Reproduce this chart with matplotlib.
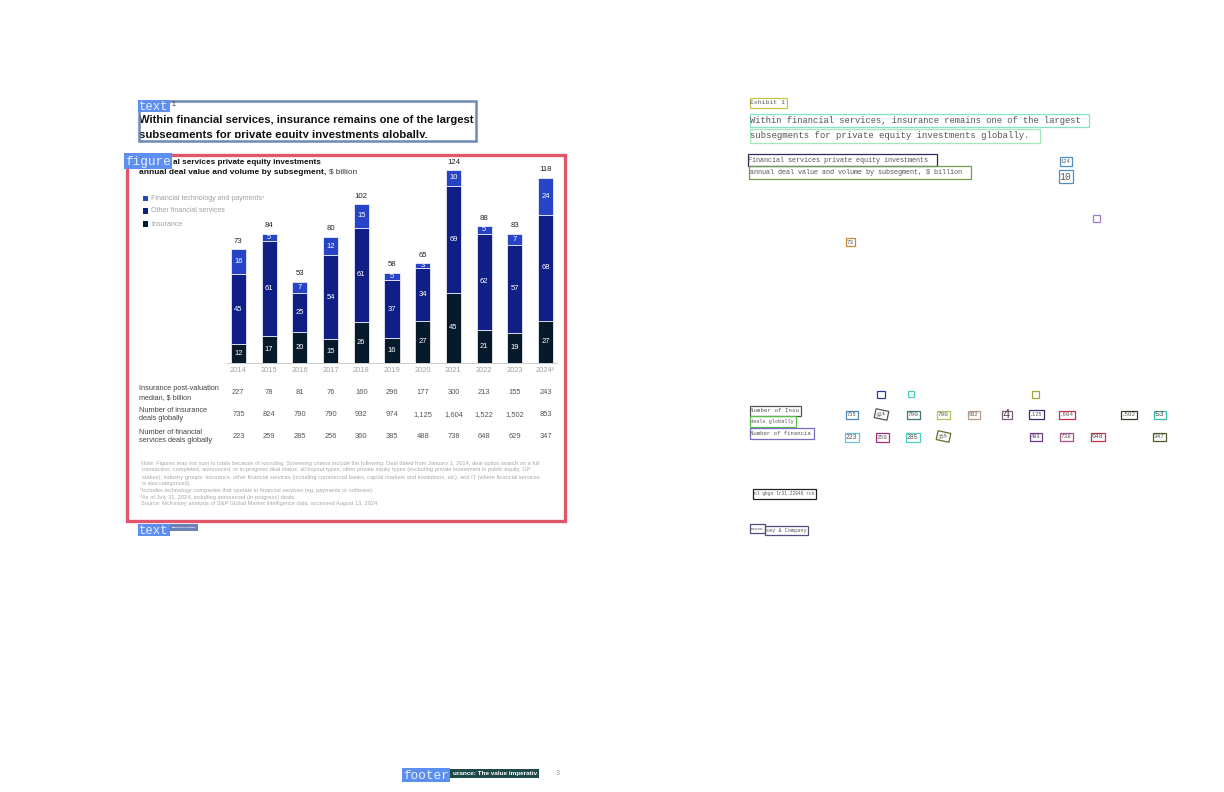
import matplotlib
matplotlib.use("Agg")
import matplotlib.pyplot as plt
from matplotlib.patches import Rectangle
import numpy as np

W, H = 1224, 792
SANS = "Liberation Sans"
MONO = "Liberation Mono"

# ---- chart data ----
years = ["2014", "2015", "2016", "2017", "2018", "2019", "2020", "2021", "2022", "2023", "2024²"]
insurance = [12, 17, 20, 15, 26, 16, 27, 45, 21, 19, 27]
other_fs = [45, 61, 25, 54, 61, 37, 34, 69, 62, 57, 68]
fintech = [16, 5, 7, 12, 15, 5, 3, 10, 5, 7, 24]
totals = [73, 84, 53, 80, 102, 58, 65, 124, 88, 83, 118]

row_labels = ["Insurance post-valuation\nmedian, $ billion",
              "Number of insurance\ndeals globally",
              "Number of financial\nservices deals globally"]
post_val_median = ["227", "78", "81", "76", "160", "296", "177", "300", "213", "155", "243"]
insurance_deals = ["735", "824", "790", "790", "932", "974", "1,125", "1,604", "1,522", "1,502", "853"]
fs_deals = ["223", "259", "285", "256", "360", "385", "488", "738", "648", "629", "347"]

legend_labels = ["Financial technology and payments¹", "Other financial services", "Insurance"]

notes = [
    "Note: Figures may not sum to totals because of rounding. Screening criteria include the following: Deal dated from January 1, 2014; deal option search on a full",
    "transaction; completed, announced, or in-progress deal status; all buyout types; other private equity types (excluding private investment in public equity, GP",
    "stakes); industry groups: insurance, other financial services (including commercial banks, capital markets and institutions, etc), and IT (where financial services",
    "is also categorized).",
    "¹Includes technology companies that operate in financial services (eg, payments or software).",
    "²As of July 31, 2024, including announced (in-progress) deals.",
    "Source: McKinsey analysis of S&P Global Market Intelligence data, accessed August 13, 2024",
]

# OCR boxes on the right half: text, box (x0, y0, x1, y1), colour, rotation
ocr_items = [
    ("Exhibit 1", (750, 98, 787, 108), "#c9c24a", 0),
    ("Within financial services, insurance remains one of the largest", (750, 114, 1089, 127), "#86e3c9", 0),
    ("subsegments for private equity investments globally.", (750, 129, 1040, 143), "#a5e6bf", 0),
    ("Financial services private equity investments", (748, 154, 937, 166), "#2c2c5a", 0),
    ("annual deal value and volume by subsegment, $ billion", (749, 166, 971, 179), "#6e9e4c", 0),
    ("124", (1060, 157, 1072, 166), "#4f8fc0", 0),
    ("10", (1059, 170, 1073, 183), "#4f8fc0", 0),
    ("", (1093, 215, 1100, 222), "#9a7ccc", 0),
    ("73", (846, 238, 855, 246), "#c8873a", 0),
    ("", (877, 391, 885, 398), "#2b3a9a", 0),
    ("", (908, 391, 914, 397), "#4fd1b5", 0),
    ("", (1032, 391, 1039, 398), "#a3a33a", 0),
    ("Number of Insu", (750, 406, 801, 416), "#555555", 0),
    ("deals globally", (750, 416, 796, 427), "#54c24a", 0),
    ("Number of financia", (750, 428, 814, 439), "#7a68c4", 0),
    ("735", (846, 411, 858, 419), "#4a86b8", 0),
    ("824", (875, 410, 888, 419), "#555555", 12),
    ("790", (907, 411, 920, 419), "#3e7a74", 0),
    ("790", (937, 411, 950, 419), "#a8c860", 0),
    ("932", (968, 411, 980, 419), "#b89a86", 0),
    ("4", (1002, 411, 1012, 419), "#7a5a7a", 0),
    (".125", (1029, 410, 1044, 419), "#3a2a6a", 0),
    (".604", (1059, 411, 1075, 419), "#c03048", 0),
    (".502", (1121, 411, 1137, 419), "#3a3a2a", 0),
    ("53", (1154, 411, 1166, 419), "#3ab8a8", 0),
    ("223", (845, 433, 859, 442), "#6ac0e0", 0),
    ("259", (876, 433, 889, 442), "#a0307a", 0),
    ("285", (906, 433, 920, 442), "#4ad0c0", 0),
    ("256", (937, 432, 950, 441), "#6a6a2a", 12),
    ("488", (1030, 433, 1042, 441), "#6a3a8a", 0),
    ("738", (1060, 433, 1073, 441), "#a8508a", 0),
    ("648", (1091, 433, 1105, 441), "#c0304a", 0),
    ("347", (1153, 433, 1166, 441), "#4a5a2a", 0),
    ("nl gbgn lr31.22846 rck", (753, 489, 816, 499), "#222222", 0),
    ("McKKn", (750, 524, 765, 533), "#5a4a7a", 0),
    ("sey & Company", (765, 526, 808, 535), "#5a4a7a", 0),
]

C_FIN, C_OTH, C_INS = "#2743c6", "#0f1f85", "#061a2c"
LABEL_BLUE, LABEL_TXT = "#5d8ff0", "#e9f0ff"

fig = plt.figure(figsize=(W / 100, H / 100), dpi=100)
fig.patch.set_facecolor("white")
renderer = fig.canvas.get_renderer()

# ---- the bar chart ----
base_y, top_y, left_x, right_x = 362.7, 160.0, 227.0, 557.0
ax = fig.add_axes([left_x / W, 1 - base_y / H, (right_x - left_x) / W, (base_y - top_y) / H])
x = np.arange(len(years))
bw = 0.49
b1 = np.array(insurance)
b2 = b1 + np.array(other_fs)
ax.bar(x, insurance, bw, color=C_INS, edgecolor="white", linewidth=0.5)
ax.bar(x, other_fs, bw, bottom=b1, color=C_OTH, edgecolor="white", linewidth=0.5)
ax.bar(x, fintech, bw, bottom=b2, color=C_FIN, edgecolor="white", linewidth=0.5)
for i in range(len(years)):
    for val, bot in [(insurance[i], 0), (other_fs[i], b1[i]), (fintech[i], b2[i])]:
        ax.text(i, bot + val / 2, str(val), ha="center", va="center", color="white",
                fontsize=5.5, family=SANS)
    ax.annotate(str(totals[i]), (i, b2[i] + fintech[i]), xytext=(0, 3.2), textcoords="offset points",
                ha="center", va="bottom", fontsize=5.6, color="#222222", family=SANS)
ax.set_xlim(-0.37, len(years) - 1 + 0.37)
ax.set_ylim(0, (base_y - top_y) / 1.554)
for s in ["top", "right", "left"]:
    ax.spines[s].set_visible(False)
ax.spines["bottom"].set_color("#cccccc")
ax.spines["bottom"].set_linewidth(0.7)
ax.set_yticks([])
ax.set_xticks(x)
ax.set_xticklabels(years, fontsize=5.4, color="#a0a0a0", family=SANS)
ax.tick_params(axis="x", length=0, pad=3)
ax.patch.set_visible(False)

# ---- overlay in pixel coordinates (y down) ----
ov = fig.add_axes([0, 0, 1, 1])
ov.set_xlim(0, W)
ov.set_ylim(H, 0)
ov.axis("off")
ov.patch.set_visible(False)


def fit(x0, x1, y, s, size=6.0, **kw):
    t = ov.text(x0, y, s, fontsize=size, ha="left", va="center", **kw)
    w = t.get_window_extent(renderer).width
    if w > 0:
        t.set_fontsize(size * (x1 - x0) / w)
    return t


def box(x0, y0, x1, y1, ec="none", fc="none", lw=1.0, angle=0, z=3):
    ov.add_patch(Rectangle((x0, y0), x1 - x0, y1 - y0, angle=angle, rotation_point="center",
                           ec=ec, fc=fc, lw=lw, zorder=z))


def tag(x0, y0, x1, y1, s):
    # layout label: blue tab with light monospace text
    box(x0, y0, x1, y1, fc=LABEL_BLUE, z=5)
    fit(x0 + 1, x1 - 1, (y0 + y1) / 2 + 1, s, size=10, family=MONO, color=LABEL_TXT, zorder=6)


# headline text block
fit(139, 475, 120, "Within financial services, insurance remains one of the largest",
    size=8, family=SANS, weight="bold", color="#111111")
fit(139, 428, 135, "subsegments for private equity investments globally.",
    size=8, family=SANS, weight="bold", color="#111111")
box(130, 138.2, 490, 150, fc="white", z=3)
box(138.5, 100.5, 476, 140.5, ec="#6f88b8", lw=1.8, z=4)
tag(138, 100, 170, 112, "text")
ov.text(171, 104, "1", fontsize=5, family=SANS, color="#333333", va="center", zorder=6)

# chart title (the start of the first line sits under the "figure" tab)
fit(173, 322, 162, "al services private equity investments", size=6, family=SANS,
    weight="bold", color="#111111")
fit(139, 327, 172, "annual deal value and volume by subsegment,", size=6, family=SANS,
    weight="bold", color="#111111")
fit(329, 358, 172, "$ billion", size=6, family=SANS, color="#333333")

# legend
for (lab, c), yy, xe in zip(zip(legend_labels, [C_FIN, C_OTH, C_INS]), [198.5, 211, 224], [266, 225, 183]):
    box(143, yy - 2.7, 148, yy + 2.7, fc=c, z=3)
    fit(151, xe, yy, lab, size=5, family=SANS, color="#a0a0a0")

# table under the bars
centers = left_x + (x + 0.37) * (right_x - left_x) / (len(years) - 1 + 0.74)
label_ends = [(220, 192), (207, 184), (203, 213)]
for r, (lab, vals, yy) in enumerate(zip(row_labels, [post_val_median, insurance_deals, fs_deals],
                                        [393, 414.5, 436.5])):
    l1, l2 = lab.split("\n")
    fit(139, label_ends[r][0], yy - 4.2, l1, size=5.5, family=SANS, color="#444444")
    fit(139, label_ends[r][1], yy + 4.2, l2, size=5.5, family=SANS, color="#444444")
    for cx, v in zip(centers, vals):
        ov.text(cx, yy, v, fontsize=5.4, family=SANS, color="#555555", ha="center", va="center")

# notes
note_pos = [(141, 546, 463.5), (142, 541, 470), (142, 545, 477), (142, 192, 483.5),
            (140, 377, 490), (140, 297, 497), (141, 381, 504)]
for s, (x0, x1, yy) in zip(notes, note_pos):
    fit(x0, x1, yy, s, size=3.6, family=SANS, color="#a8a8a8")

# figure region box + labels
box(126.5, 154.5, 564.5, 520.5, ec="#e0566a", lw=2.4, z=4)
tag(124, 153, 172, 169, "figure")

tag(138, 524, 170, 536, "text")
box(170, 523.5, 198, 530.5, fc="#6b82b5", z=5)
fit(172, 196, 527, "McKinsey&Company", size=3, family=SANS, weight="bold", color="white", zorder=6)

# footer
tag(402, 768, 450, 782, "footer")
box(450, 769, 539, 778, fc="#1f4a4a", z=5)
fit(453, 537, 773.5, "urance: The value imperativ", size=4, family=SANS, weight="bold",
    color="white", zorder=6)
ov.text(558, 773.5, "3", fontsize=5, family=SANS, color="#999999", ha="center", va="center")

# OCR boxes on the right half
for s, (x0, y0, x1, y1), c, rot in ocr_items:
    box(x0, y0, x1, y1, ec=c, lw=0.9, angle=rot, z=3)
    if s:
        t = fit(x0 + 0.5, x1 - 1.5, (y0 + y1) / 2, s, size=5, family=MONO, color="#555555",
                rotation=rot)
        if t.get_fontsize() > 9:
            t.set_fontsize(9)

fig.savefig("out.png", dpi=100)
